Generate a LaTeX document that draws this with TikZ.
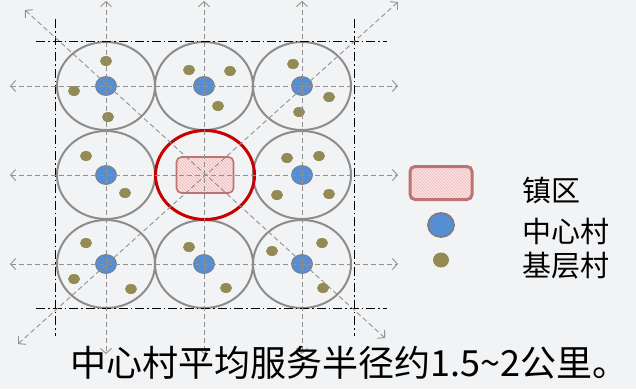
\documentclass[tikz,border=0pt]{standalone}
\usepackage{fontspec}
\newfontfamily\cjk{Noto Sans CJK SC}
\usetikzlibrary{arrows.meta,shapes.geometric,patterns}

\definecolor{bgGray}{RGB}{242,243,245}
\definecolor{zoneGray}{RGB}{140,140,140}
\definecolor{axisGray}{RGB}{145,145,145}
\definecolor{townRed}{RGB}{200,0,0}
\definecolor{hubBlue}{RGB}{85,142,213}
\definecolor{hubEdge}{RGB}{125,125,125}
\definecolor{hamOlive}{RGB}{148,138,84}
\definecolor{townEdge}{RGB}{190,115,115}
\definecolor{townFill}{RGB}{250,228,228}
\definecolor{townHatch}{RGB}{240,180,180}

\tikzset{
  zone/.style={ellipse,draw=zoneGray,line width=2pt,minimum width=98pt,minimum height=88pt,inner sep=0pt},
  core/.style={ellipse,draw=townRed,line width=3pt,minimum width=99pt,minimum height=89pt,inner sep=0pt},
  hub/.style={ellipse,draw=hubEdge,fill=hubBlue,line width=0.8pt,minimum width=21pt,minimum height=19pt,inner sep=0pt},
  hamlet/.style={ellipse,fill=hamOlive,minimum width=12pt,minimum height=10pt,inner sep=0pt},
  town/.style={rectangle,rounded corners=5pt,draw=townEdge,line width=1.6pt,preaction={fill=townFill},
    pattern=north west lines,pattern color=townHatch,minimum width=57pt,minimum height=36pt,inner sep=0pt},
  axis/.style={draw=axisGray,line width=0.9pt,dash pattern=on 5pt off 3pt,
    {Straight Barb[length=5pt,width=11pt]}-{Straight Barb[length=5pt,width=11pt]}},
  frame/.style={draw=black,line width=1pt,dash pattern=on 9pt off 3pt on 1.5pt off 3pt},
  legendtext/.style={anchor=west,inner sep=0pt,font=\cjk\fontsize{29}{32}\selectfont}
}

\begin{document}
\begin{tikzpicture}[x=1pt,y=-1pt]
\fill[bgGray] (0,0) rectangle (636,389);
\useasboundingbox (0,0) rectangle (636,389);

% service areas
\node[zone] (c11) at (106,86) {};
\node[zone] (c12) at (204,86) {};
\node[zone] (c13) at (302,86) {};
\node[zone] (c21) at (106,175) {};
\node[zone] (c23) at (302,175) {};
\node[zone] (c31) at (106,264) {};
\node[zone] (c32) at (204,264) {};
\node[zone] (c33) at (302,264) {};
\node[core] (c22) at (205,175) {};

% central villages
\node[hub] (h11) at (106,86) {};
\node[hub] (h12) at (204,86) {};
\node[hub] (h13) at (302,86) {};
\node[hub] (h21) at (106,175) {};
\node[hub] (h23) at (302,175) {};
\node[hub] (h31) at (106,264) {};
\node[hub] (h32) at (204,264) {};
\node[hub] (h33) at (302,264) {};

% basic villages
\node[hamlet] (v1a) at (106,61) {};
\node[hamlet] (v1b) at (74,91) {};
\node[hamlet] (v1c) at (108,117) {};
\node[hamlet] (v2a) at (189,70) {};
\node[hamlet] (v2b) at (230,71) {};
\node[hamlet] (v2c) at (218,106) {};
\node[hamlet] (v3a) at (293,64) {};
\node[hamlet] (v3b) at (329,97) {};
\node[hamlet] (v3c) at (299,112) {};
\node[hamlet] (v4a) at (86,156) {};
\node[hamlet] (v4b) at (125,193) {};
\node[hamlet] (v6a) at (287,158) {};
\node[hamlet] (v6b) at (319,156) {};
\node[hamlet] (v6c) at (277,195) {};
\node[hamlet] (v6d) at (329,194) {};
\node[hamlet] (v7a) at (86,243) {};
\node[hamlet] (v7b) at (74,279) {};
\node[hamlet] (v7c) at (131,289) {};
\node[hamlet] (v8a) at (189,247) {};
\node[hamlet] (v8b) at (226,288) {};
\node[hamlet] (v9a) at (322,243) {};
\node[hamlet] (v9b) at (272,251) {};
\node[hamlet] (v9c) at (323,288) {};

% town
\node[town] (town) at (205,175) {};

% frame
\coordinate (fTL) at (36,41);  \coordinate (fTR) at (387,41);
\coordinate (fBL) at (36,308); \coordinate (fBR) at (387,308);
\coordinate (fLT) at (55,19);  \coordinate (fLB) at (55,336);
\coordinate (fRT) at (354,19); \coordinate (fRB) at (354,336);
\draw[frame] (fTL) -- (fTR);
\draw[frame] (fBL) -- (fBR);
\draw[frame] (fLT) -- (fLB);
\draw[frame] (fRT) -- (fRB);

% axes
\coordinate (aL1) at (10,86);  \coordinate (aR1) at (398,86);
\coordinate (aL2) at (10,175); \coordinate (aR2) at (398,175);
\coordinate (aL3) at (10,264); \coordinate (aR3) at (398,264);
\coordinate (aT1) at (106,1);  \coordinate (aB1) at (106,354);
\coordinate (aT2) at (204,1);  \coordinate (aB2) at (204,354);
\coordinate (aT3) at (302,1);  \coordinate (aB3) at (302,354);
\coordinate (aUL) at (25,10);  \coordinate (aLR) at (385,338);
\coordinate (aLL) at (18,344); \coordinate (aUR) at (398,2);
\draw[axis] (aL1) -- (aR1);
\draw[axis] (aL2) -- (aR2);
\draw[axis] (aL3) -- (aR3);
\draw[axis] (aT1) -- (aB1);
\draw[axis] (aT2) -- (aB2);
\draw[axis] (aT3) -- (aB3);
\draw[axis] (aUL) -- (aLR);
\draw[axis] (aLL) -- (aUR);

% legend
\node[town,minimum width=62pt,minimum height=33pt,line width=3pt] (lgTown) at (441,183) {};
\node[hub,minimum width=26pt,minimum height=24pt,line width=1.8pt] (lgHub) at (441,225) {};
\node[hamlet,minimum width=16pt,minimum height=15pt] (lgHam) at (441,260) {};
\node[legendtext] (txTown) at (522,191) {镇区};
\node[legendtext] (txHub) at (522,231) {中心村};
\node[legendtext] (txHam) at (522,266) {基层村};

\node[anchor=west,inner sep=0pt,font=\cjk\fontsize{36}{40}\selectfont] (note) at (70,363)
  {中心村平均服务半径约1.5\textasciitilde 2公里。};
\end{tikzpicture}
\end{document}
